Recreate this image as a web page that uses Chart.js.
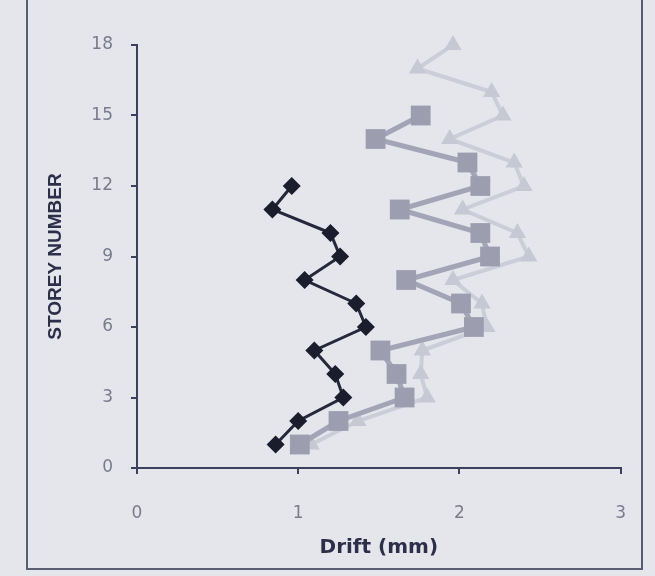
<!DOCTYPE html>
<html>
<head>
<meta charset="utf-8">
<script src="https://cdn.jsdelivr.net/npm/chart.js@4"></script>
<style>
  html, body { margin: 0; padding: 0; background: #e5e5ec; overflow: hidden; }
  #wrap { position: relative; width: 655px; height: 576px; }
  #frame { position: absolute; left: 26px; top: -4px; width: 613px; height: 570px; border: 2px solid #5b5d72; }
  canvas { position: absolute; left: 0; top: 0; }
</style>
</head>
<body>
<div id="wrap">
  <div id="frame"></div>
  <canvas id="graficoDrift" width="655" height="576"></canvas>
</div>
<script>
// Dados
const storeys = [1, 2, 3, 4, 5, 6, 7, 8, 9, 10, 11, 12, 13, 14, 15, 16, 17, 18];
const driftBlack = [0.86, 1.00, 1.28, 1.23, 1.10, 1.42, 1.36, 1.04, 1.26, 1.20, 0.84, 0.96];
const driftGrey = [1.01, 1.25, 1.66, 1.61, 1.51, 2.09, 2.01, 1.67, 2.19, 2.13, 1.63, 2.13, 2.05, 1.48, 1.76];
const driftLight = [1.08, 1.37, 1.80, 1.76, 1.77, 2.17, 2.14, 1.96, 2.43, 2.36, 2.02, 2.40, 2.34, 1.94, 2.27, 2.20, 1.74, 1.96];
const yTicks = [0, 3, 6, 9, 12, 15, 18];
const xTicks = [0, 1, 2, 3];

function pontos(drift) {
  return drift.map((d, i) => ({ x: d, y: storeys[i] }));
}

const corEixo = '#3d405c';
const corTick = '#7a7c8c';
const corTitulo = '#2d2f48';

const ctxDrift = document.getElementById('graficoDrift').getContext('2d');
new Chart(ctxDrift, {
  type: 'line',
  data: {
    datasets: [
      {
        data: pontos(driftBlack),
        borderColor: '#26273a',
        backgroundColor: '#1b1c2c',
        borderWidth: 3,
        pointStyle: 'rectRot',
        pointRadius: 9,
        pointBorderWidth: 0,
        clip: false,
        order: 1
      },
      {
        data: pontos(driftGrey),
        borderColor: '#a3a5b6',
        backgroundColor: '#9c9eb0',
        borderWidth: 5,
        pointStyle: 'rect',
        pointRadius: 14,
        pointBorderWidth: 0,
        clip: false,
        order: 2
      },
      {
        data: pontos(driftLight),
        borderColor: '#cbcdd8',
        backgroundColor: '#c6c8d4',
        borderWidth: 4,
        pointStyle: 'triangle',
        pointRadius: 10,
        pointBorderWidth: 0,
        clip: false,
        order: 3
      }
    ]
  },
  options: {
    responsive: false,
    animation: false,
    layout: { padding: { top: 45, right: 32, left: 0, bottom: 0 } },
    plugins: {
      legend: { display: false },
      tooltip: { enabled: false }
    },
    elements: { line: { tension: 0 } },
    scales: {
      x: {
        type: 'linear',
        min: 0,
        max: 3,
        afterBuildTicks: s => { s.ticks = xTicks.map(v => ({ value: v })); },
        afterFit: s => { s.height = 108; },
        border: { display: true, color: corEixo, width: 2 },
        grid: { drawOnChartArea: false, drawTicks: true, tickLength: 6, color: corEixo, lineWidth: 2 },
        ticks: { color: corTick, padding: 29, font: { family: 'DejaVu Sans', size: 17 } },
        title: {
          display: true,
          text: 'Drift (mm)',
          color: corTitulo,
          padding: { top: 0, bottom: 16 },
          font: { family: 'DejaVu Sans', size: 20, weight: 'bold' }
        }
      },
      y: {
        type: 'linear',
        min: 0,
        max: 18,
        afterBuildTicks: s => { s.ticks = yTicks.map(v => ({ value: v })); },
        afterFit: s => { s.width = 137; },
        border: { display: true, color: corEixo, width: 2 },
        grid: { drawOnChartArea: false, drawTicks: true, tickLength: 6, color: corEixo, lineWidth: 2 },
        ticks: { color: corTick, padding: 18, font: { family: 'DejaVu Sans', size: 17 } },
        title: {
          display: true,
          text: 'STOREY NUMBER',
          color: corTitulo,
          padding: { top: 44, bottom: 0 },
          font: { family: 'Liberation Sans', size: 19, weight: 'bold' }
        }
      }
    }
  }
});
</script>
</body>
</html>
